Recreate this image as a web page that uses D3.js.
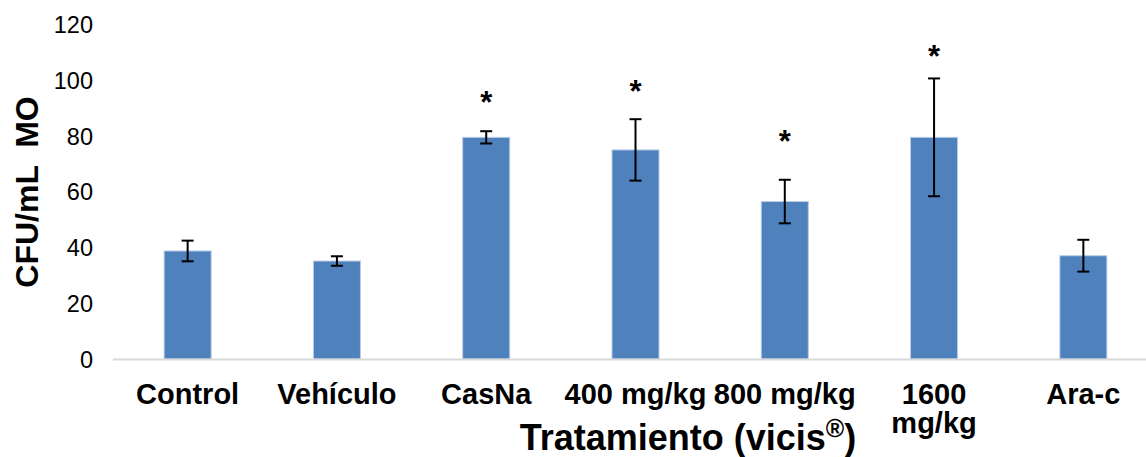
<!DOCTYPE html>
<html>
<head>
<meta charset="utf-8">
<script src="https://cdn.jsdelivr.net/npm/d3@7"></script>
<style>
  body { margin: 0; background: #fff; }
  svg { display: block; font-family: "Liberation Sans", Arial, sans-serif; }
</style>
</head>
<body>
<script>
var WIDTH = 1146;
var HEIGHT = 457;

// chart values
var categories = ['Control', 'Vehículo', 'CasNa', '400 mg/kg', '800 mg/kg', '1600 mg/kg', 'Ara-c'];
var means = [38.7, 35.1, 79.4, 74.9, 56.4, 79.4, 37.0];
var errors = [3.7, 1.7, 2.2, 11.0, 7.8, 21.1, 5.7];
var starHeights = [null, null, 93.5, 97.5, 79.6, 110, null]; // where the "*" sits, in data units
var yTicks = [0, 20, 40, 60, 80, 100, 120];

var PLOT_LEFT = 113;
var PLOT_RIGHT = 1158; // the source crop cuts the last slot short
var PLOT_TOP = 24;
var PLOT_BOTTOM = 359;

var svg = d3.select('body')
    .append('svg')
    .attr('width', WIDTH)
    .attr('height', HEIGHT);

var x = d3.scaleBand()
    .domain(categories)
    .range([PLOT_LEFT, PLOT_RIGHT])
    .padding(0);

var y = d3.scaleLinear()
    .domain([0, 120])
    .range([PLOT_BOTTOM, PLOT_TOP]);

var barWidth = x.bandwidth() * 0.315;
var center = function (d) { return x(d) + x.bandwidth() / 2; };

// y tick labels (no axis line in the source, labels only)
var yAxis = d3.axisLeft(y)
    .tickValues(yTicks)
    .tickSize(0)
    .tickPadding(0);

svg.append('g')
    .attr('class', 'y-axis')
    .attr('transform', 'translate(93,0)')
    .call(yAxis)
    .call(function (g) { g.select('.domain').remove(); })
    .selectAll('text')
    .attr('font-size', '23.5px')
    .attr('font-family', '"Liberation Sans", Arial, sans-serif')
    .attr('fill', '#000')
    .attr('dy', '0.36em');

// bars
svg.selectAll('rect.bar')
    .data(categories)
    .enter()
    .append('rect')
    .attr('class', 'bar')
    .attr('x', function (d) { return center(d) - barWidth / 2; })
    .attr('y', function (d, i) { return y(means[i]); })
    .attr('width', barWidth)
    .attr('height', function (d, i) { return y(0) - y(means[i]); })
    .attr('fill', '#4F81BD')
    .attr('stroke', '#B9CDE5')
    .attr('stroke-width', 1);

// baseline of the category axis
svg.append('line')
    .attr('x1', PLOT_LEFT)
    .attr('x2', WIDTH)
    .attr('y1', y(0) + 0.5)
    .attr('y2', y(0) + 0.5)
    .attr('stroke', '#D9D9D9')
    .attr('stroke-width', 2);

// error bars
var errs = svg.selectAll('g.err')
    .data(categories)
    .enter()
    .append('g')
    .attr('class', 'err')
    .attr('stroke', '#000')
    .attr('stroke-width', 2);

errs.append('line')
    .attr('x1', center).attr('x2', center)
    .attr('y1', function (d, i) { return y(means[i] + errors[i]); })
    .attr('y2', function (d, i) { return y(means[i] - errors[i]); });

errs.append('line')
    .attr('x1', function (d) { return center(d) - 6; })
    .attr('x2', function (d) { return center(d) + 6; })
    .attr('y1', function (d, i) { return y(means[i] + errors[i]); })
    .attr('y2', function (d, i) { return y(means[i] + errors[i]); });

errs.append('line')
    .attr('x1', function (d) { return center(d) - 6; })
    .attr('x2', function (d) { return center(d) + 6; })
    .attr('y1', function (d, i) { return y(means[i] - errors[i]); })
    .attr('y2', function (d, i) { return y(means[i] - errors[i]); });

// significance stars
svg.selectAll('text.star')
    .data(categories.filter(function (d, i) { return starHeights[i] !== null; }))
    .enter()
    .append('text')
    .attr('class', 'star')
    .attr('x', center)
    .attr('y', function (d) { return y(starHeights[categories.indexOf(d)]) + 15; })
    .attr('text-anchor', 'middle')
    .attr('font-size', '31px')
    .attr('font-weight', 'bold')
    .text('*');

// category labels; long ones wrap like the source ("1600 / mg/kg")
var catLines = function (d) { return d === '1600 mg/kg' ? ['1600', 'mg/kg'] : [d]; };

var catLabels = svg.selectAll('text.cat')
    .data(categories)
    .enter()
    .append('text')
    .attr('class', 'cat')
    .attr('text-anchor', 'middle')
    .attr('font-size', '29px')
    .attr('font-weight', 'bold')
    .attr('y', 404);

catLabels.selectAll('tspan')
    .data(function (d) { return catLines(d).map(function (t) { return { cat: d, t: t }; }); })
    .enter()
    .append('tspan')
    .attr('x', function (d) { return center(d.cat); })
    .attr('dy', function (d, i) { return i === 0 ? 0 : 29; })
    .text(function (d) { return d.t; });

// axis titles
var xTitle = svg.append('text')
    .attr('x', 688)
    .attr('y', 450)
    .attr('text-anchor', 'middle')
    .attr('font-size', '36px')
    .attr('font-weight', 'bold');
xTitle.append('tspan').text('Tratamiento (vicis');
xTitle.append('tspan').attr('font-size', '25px').attr('dy', -13).text('®');
xTitle.append('tspan').attr('dy', 13).text(')');

svg.append('text')
    .attr('transform', 'translate(38,192) rotate(-90)')
    .attr('text-anchor', 'middle')
    .attr('font-size', '32px')
    .attr('font-weight', 'bold')
    .attr('xml:space', 'preserve')
    .style('white-space', 'pre')
    .text('CFU/mL  MO');
</script>
</body>
</html>
